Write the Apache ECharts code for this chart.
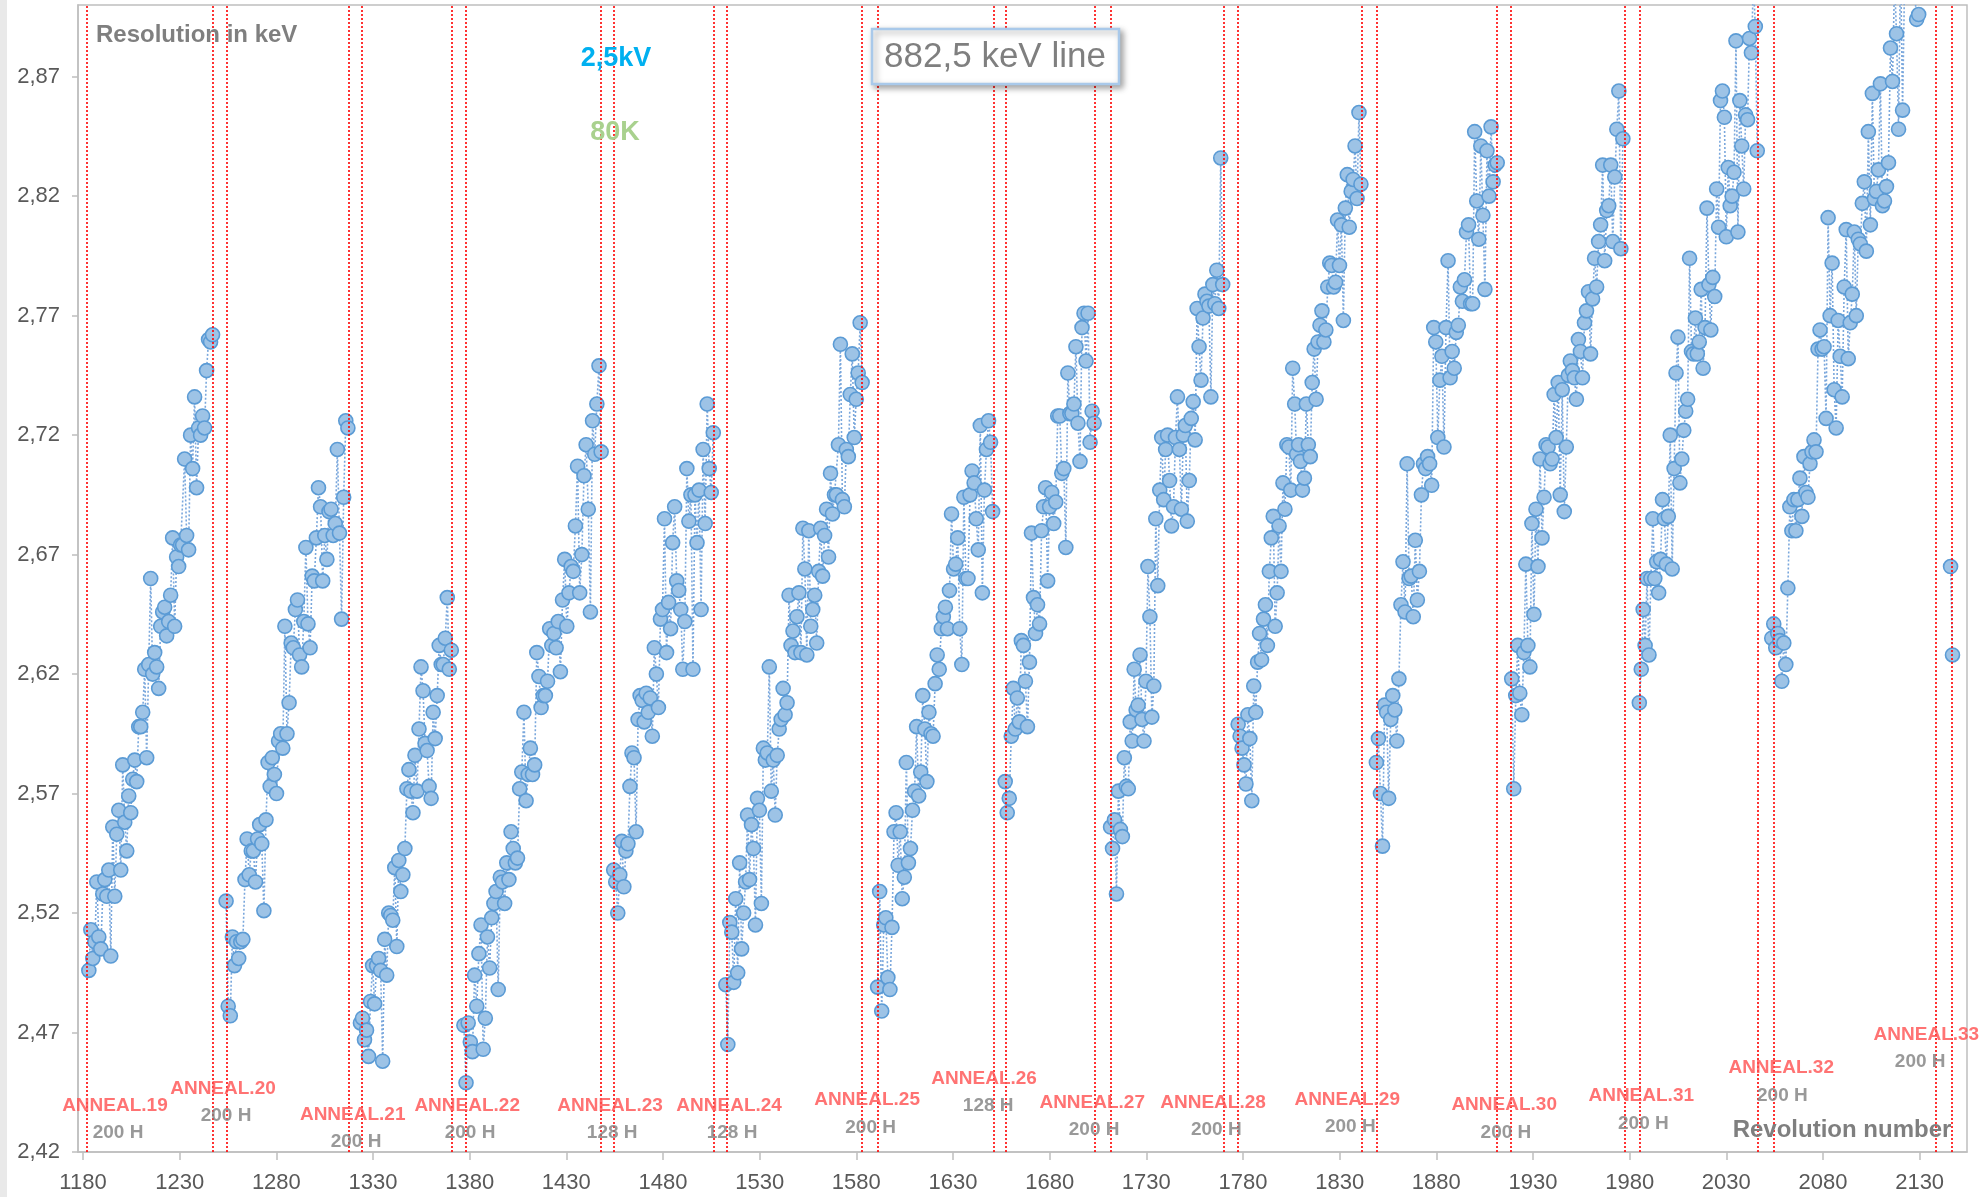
<!DOCTYPE html>
<html><head><meta charset="utf-8">
<script src="https://cdn.jsdelivr.net/npm/echarts@6/dist/echarts.min.js"></script>
<style>html,body{margin:0;padding:0;background:#fff}#c{width:1981px;height:1197px}</style>
</head><body><div id="c"></div>
<script>
// ---- tick labels ----
const xTickLabels = [1180,1230,1280,1330,1380,1430,1480,1530,1580,1630,1680,1730,1780,1830,1880,1930,1980,2030,2080,2130];
const yTickLabels = [2.42,2.47,2.52,2.57,2.62,2.67,2.72,2.77,2.82,2.87];

// ---- anneal marker lines (revolution numbers) ----
const annealLines = [1182,1247,1254.5,1317.5,1324,1370.5,1378,1448,1454.5,1506,1513,1583,1591,1651,1657.5,1703.5,1711.5,1770,1777.5,1841.5,1849,1911.5,1918.5,1977.5,1985,2046.5,2054.5,2138.5,2146.5];

// ---- annotations ----
const annealNames = ['ANNEAL.19','ANNEAL.20','ANNEAL.21','ANNEAL.22','ANNEAL.23','ANNEAL.24','ANNEAL.25','ANNEAL.26','ANNEAL.27','ANNEAL.28','ANNEAL.29','ANNEAL.30','ANNEAL.31','ANNEAL.32','ANNEAL.33'];
const annealLabelX = [1196.5,1252.4,1319.5,1378.7,1452.6,1514.2,1585.6,1646.1,1702,1764.5,1833.9,1915.1,1986,2058.4,2133.5];
const annealLabelY = [2.4392,2.4464,2.4355,2.4392,2.4392,2.4392,2.4418,2.4505,2.4405,2.4405,2.4418,2.4397,2.4434,2.4551,2.4690];
const annealHours = ['200 H','200 H','200 H','200 H','128 H','128 H','200 H','128 H','200 H','200 H','200 H','200 H','200 H','200 H','200 H'];
const hoursLabelX = [1198.1,1254,1321.2,1380.2,1453.7,1515.7,1587.4,1648.2,1703,1766.2,1835.5,1916,1987.1,2059,2130.3];
const hoursLabelY = [2.4280,2.4351,2.4242,2.4280,2.4280,2.4280,2.4300,2.4392,2.4292,2.4292,2.4305,2.4280,2.4317,2.4434,2.4577];

// ---- measured resolution (keV) per cycle after each anneal: [first rev, last rev] ----
const cycle19Range = [1183, 1247];
const cycle19 = [2.496,2.513,2.501,2.508,2.533,2.510,2.505,2.528,2.534,2.527,2.538,2.502,2.556,2.527,2.553,2.563,2.538,2.582,2.558,2.546,2.569,2.562,2.576,2.584,2.575,2.598,2.598,2.604,2.622,2.585,2.624,2.660,2.620,2.629,2.623,2.614,2.640,2.646,2.648,2.636,2.642,2.653,2.677,2.640,2.669,2.665,2.674,2.674,2.710,2.678,2.672,2.720,2.706,2.736,2.698,2.723,2.720,2.728,2.723,2.747,2.760,2.759,2.762];
const cycle20Range = [1254, 1317];
const cycle20 = [2.525,2.481,2.477,2.510,2.498,2.508,2.501,2.508,2.509,2.534,2.551,2.536,2.546,2.546,2.533,2.551,2.557,2.549,2.521,2.559,2.583,2.573,2.585,2.578,2.570,2.592,2.595,2.589,2.640,2.595,2.608,2.633,2.631,2.647,2.651,2.628,2.623,2.642,2.673,2.641,2.631,2.661,2.659,2.677,2.698,2.690,2.659,2.678,2.668,2.688,2.689,2.678,2.683,2.714,2.679,2.643,2.694,2.726,2.723];
const cycle21Range = [1323.5, 1370.5];
const cycle21 = [2.474,2.476,2.467,2.471,2.460,2.483,2.498,2.482,2.498,2.501,2.496,2.458,2.509,2.494,2.520,2.519,2.517,2.539,2.506,2.542,2.529,2.536,2.547,2.572,2.580,2.571,2.562,2.586,2.571,2.597,2.623,2.613,2.591,2.588,2.573,2.568,2.604,2.593,2.611,2.632,2.624,2.624,2.635,2.652,2.622,2.630];
const cycle22Range = [1377, 1448];
const cycle22 = [2.473,2.449,2.474,2.466,2.462,2.494,2.481,2.503,2.515,2.463,2.476,2.510,2.497,2.518,2.524,2.529,2.488,2.535,2.533,2.524,2.541,2.534,2.554,2.547,2.541,2.543,2.572,2.579,2.604,2.567,2.578,2.589,2.578,2.582,2.629,2.619,2.606,2.611,2.611,2.617,2.639,2.632,2.637,2.631,2.642,2.621,2.651,2.668,2.640,2.654,2.665,2.663,2.682,2.707,2.654,2.670,2.703,2.716,2.689,2.646,2.726,2.712,2.733,2.749,2.713];
const cycle23Range = [1454.5, 1506];
const cycle23 = [2.538,2.533,2.520,2.536,2.550,2.531,2.546,2.549,2.573,2.587,2.585,2.554,2.601,2.611,2.609,2.600,2.612,2.604,2.610,2.594,2.631,2.620,2.606,2.643,2.647,2.685,2.629,2.650,2.639,2.675,2.690,2.659,2.655,2.647,2.622,2.642,2.706,2.684,2.695,2.622,2.695,2.675,2.697,2.647,2.714,2.683,2.733,2.706,2.696,2.721];
const cycle24Range = [1512.5, 1583];
const cycle24 = [2.490,2.465,2.516,2.512,2.491,2.526,2.495,2.541,2.505,2.520,2.533,2.561,2.534,2.557,2.547,2.515,2.568,2.563,2.524,2.589,2.584,2.587,2.623,2.571,2.584,2.561,2.586,2.597,2.601,2.614,2.603,2.608,2.653,2.632,2.638,2.629,2.644,2.654,2.629,2.681,2.664,2.628,2.680,2.640,2.647,2.653,2.633,2.663,2.681,2.661,2.678,2.689,2.669,2.704,2.687,2.695,2.695,2.716,2.758,2.693,2.690,2.714,2.711,2.737,2.754,2.719,2.735,2.746,2.767,2.742];
const cycle25Range = [1591, 1650.5];
const cycle25 = [2.489,2.529,2.479,2.515,2.518,2.493,2.488,2.514,2.554,2.562,2.540,2.554,2.526,2.535,2.583,2.541,2.547,2.563,2.571,2.598,2.569,2.579,2.611,2.597,2.575,2.604,2.595,2.594,2.616,2.628,2.622,2.639,2.644,2.648,2.639,2.655,2.687,2.664,2.666,2.677,2.639,2.624,2.694,2.660,2.660,2.695,2.705,2.700,2.685,2.672,2.724,2.654,2.697,2.714,2.726,2.717,2.688];
const cycle26Range = [1657, 1703];
const cycle26 = [2.575,2.562,2.568,2.594,2.614,2.597,2.610,2.600,2.634,2.632,2.617,2.598,2.625,2.679,2.652,2.637,2.649,2.641,2.680,2.690,2.698,2.659,2.690,2.696,2.683,2.692,2.728,2.728,2.704,2.706,2.673,2.746,2.729,2.729,2.733,2.757,2.725,2.709,2.765,2.771,2.751,2.771,2.717,2.730,2.725];
const cycle27Range = [1711.5, 1769.5];
const cycle27 = [2.556,2.547,2.559,2.528,2.571,2.555,2.552,2.585,2.573,2.572,2.600,2.592,2.622,2.605,2.607,2.628,2.601,2.592,2.617,2.665,2.644,2.602,2.615,2.685,2.657,2.697,2.719,2.693,2.714,2.720,2.701,2.682,2.690,2.719,2.736,2.714,2.689,2.720,2.724,2.684,2.701,2.727,2.734,2.718,2.773,2.757,2.743,2.769,2.779,2.776,2.774,2.736,2.783,2.775,2.789,2.773,2.836,2.783];
const cycle28Range = [1777.5, 1841];
const cycle28 = [2.599,2.594,2.589,2.582,2.574,2.603,2.593,2.567,2.615,2.604,2.625,2.637,2.626,2.643,2.649,2.632,2.663,2.677,2.686,2.640,2.654,2.682,2.663,2.700,2.689,2.716,2.715,2.697,2.748,2.733,2.712,2.716,2.709,2.697,2.702,2.733,2.716,2.711,2.742,2.756,2.735,2.759,2.766,2.772,2.759,2.764,2.782,2.792,2.791,2.782,2.784,2.810,2.791,2.808,2.768,2.815,2.829,2.807,2.822,2.827,2.841,2.819,2.855,2.825];
const cycle29Range = [1849, 1911.5];
const cycle29 = [2.583,2.593,2.570,2.548,2.607,2.604,2.568,2.601,2.611,2.605,2.592,2.618,2.649,2.667,2.646,2.708,2.660,2.661,2.644,2.676,2.651,2.663,2.695,2.708,2.706,2.711,2.708,2.699,2.765,2.759,2.719,2.743,2.753,2.715,2.765,2.793,2.744,2.755,2.748,2.763,2.766,2.782,2.776,2.785,2.805,2.808,2.775,2.775,2.847,2.818,2.802,2.841,2.812,2.781,2.839,2.820,2.849,2.826,2.833,2.834];
const cycle30Range = [1919, 1976.5];
const cycle30 = [2.618,2.572,2.611,2.632,2.612,2.603,2.629,2.666,2.632,2.623,2.683,2.645,2.689,2.665,2.710,2.677,2.694,2.716,2.715,2.708,2.710,2.737,2.719,2.742,2.695,2.739,2.688,2.715,2.745,2.751,2.747,2.744,2.735,2.760,2.755,2.744,2.767,2.772,2.780,2.754,2.777,2.794,2.782,2.801,2.808,2.833,2.793,2.814,2.816,2.833,2.801,2.828,2.848,2.864,2.798,2.844];
const cycle31Range = [1985, 2046];
const cycle31 = [2.608,2.622,2.647,2.632,2.660,2.628,2.660,2.685,2.660,2.667,2.654,2.668,2.693,2.685,2.666,2.686,2.720,2.664,2.706,2.746,2.761,2.700,2.710,2.722,2.730,2.735,2.794,2.755,2.754,2.769,2.754,2.759,2.781,2.748,2.765,2.815,2.783,2.764,2.786,2.778,2.823,2.807,2.860,2.864,2.853,2.803,2.832,2.816,2.820,2.830,2.885,2.805,2.860,2.841,2.823,2.854,2.852,2.886,2.880,2.910,2.891,2.839];
const cycle32Range = [2053.5, 2129.5];
const cycle32 = [2.635,2.641,2.631,2.637,2.634,2.617,2.633,2.624,2.656,2.690,2.680,2.693,2.680,2.693,2.702,2.686,2.711,2.696,2.694,2.708,2.713,2.718,2.713,2.756,2.764,2.756,2.757,2.727,2.811,2.770,2.792,2.739,2.723,2.768,2.753,2.736,2.782,2.806,2.752,2.767,2.779,2.805,2.770,2.802,2.800,2.817,2.826,2.797,2.847,2.808,2.863,2.819,2.822,2.831,2.867,2.816,2.818,2.824,2.834,2.882,2.868,2.910,2.888,2.848,2.920,2.856,2.910,2.905,2.915,2.910,2.920,2.905,2.894,2.896];
const cycle33Range = [2146, 2147];
const cycle33 = [2.665,2.628];

const cycles = [
  [cycle19Range, cycle19],[cycle20Range, cycle20],[cycle21Range, cycle21],[cycle22Range, cycle22],
  [cycle23Range, cycle23],[cycle24Range, cycle24],[cycle25Range, cycle25],[cycle26Range, cycle26],
  [cycle27Range, cycle27],[cycle28Range, cycle28],[cycle29Range, cycle29],[cycle30Range, cycle30],
  [cycle31Range, cycle31],[cycle32Range, cycle32],[cycle33Range, cycle33]
];

const seriesData = [];
cycles.forEach(([range, vals]) => {
  const n = vals.length;
  vals.forEach((v, i) => {
    const x = n > 1 ? range[0] + i * (range[1] - range[0]) / (n - 1) : range[0];
    seriesData.push([x, v]);
  });
  seriesData.push([range[1] + 0.5, '-']);
});

const grayTxt = '#7f7f7f';
const clear = 'rgba(0,0,0,0)';
const annFont = 'Liberation Sans';
const chart = echarts.init(document.getElementById('c'), null, {renderer: 'canvas'});
chart.setOption({
  backgroundColor: '#ffffff',
  animation: false,
  grid: {left: 78, right: 14, top: 5, bottom: 45, show: true, borderColor: '#bfbfbf', borderWidth: 1.5, backgroundColor: 'transparent'},
  xAxis: {
    type: 'value', min: 1177.4, max: 2154.5,
    axisLine: {show: true, onZero: false, lineStyle: {color: '#bfbfbf', width: 1.5}},
    axisTick: {show: true, customValues: xTickLabels, length: 8, lineStyle: {color: '#bfbfbf', width: 1.5}},
    axisLabel: {customValues: xTickLabels, margin: 20, fontSize: 22, color: '#595959', fontFamily: 'Liberation Sans',
      formatter: v => String(Math.round(v))},
    splitLine: {show: false}
  },
  yAxis: {
    type: 'value', min: 2.42, max: 2.90,
    axisLine: {show: true, onZero: false, lineStyle: {color: '#bfbfbf', width: 1.5}},
    axisTick: {show: true, customValues: yTickLabels, length: 6, lineStyle: {color: '#bfbfbf', width: 1.5}},
    axisLabel: {customValues: yTickLabels, margin: 18, fontSize: 22, color: '#595959', fontFamily: 'Liberation Sans',
      formatter: v => v.toFixed(2).replace('.', ',')},
    splitLine: {show: false}
  },
  series: [
    {
      type: 'line', data: seriesData, clip: true, connectNulls: false,
      symbol: 'circle', symbolSize: 14, showSymbol: true,
      lineStyle: {color: '#7aa7dc', width: 1.6, type: [2, 2]},
      itemStyle: {color: '#9dc3e6', borderColor: '#5b9bd5', borderWidth: 1.6},
      emphasis: {disabled: true},
      markLine: {
        silent: true, symbol: ['none', 'none'], label: {show: false}, animation: false,
        lineStyle: {color: '#ff0000', width: 1.6, type: [2, 2]},
        data: annealLines.map(v => ({xAxis: v}))
      },
      z: 3
    },
    {
      type: 'scatter', silent: true, clip: false, symbol: 'rect', symbolSize: 1,
      itemStyle: {color: clear, borderColor: clear},
      data: annealNames.map((n, i) => ({name: n, value: [annealLabelX[i], annealLabelY[i]]})),
      label: {show: true, position: 'inside', formatter: p => p.name, color: '#ff5050', fontWeight: 'bold', fontSize: 19, fontFamily: annFont},
      labelLayout: {hideOverlap: false},
      z: 5
    },
    {
      type: 'scatter', silent: true, clip: false, symbol: 'rect', symbolSize: 1,
      itemStyle: {color: clear, borderColor: clear},
      data: annealHours.map((n, i) => ({name: n, value: [hoursLabelX[i], hoursLabelY[i]]})),
      label: {show: true, position: 'inside', formatter: p => p.name, color: grayTxt, fontWeight: 'bold', fontSize: 19, fontFamily: annFont},
      labelLayout: {hideOverlap: false},
      z: 5
    }
  ],
  graphic: [
    {type: 'rect', z: 100, shape: {x: 0, y: 0, width: 7, height: 1197}, style: {fill: '#e9e9e9'}},
    {type: 'text', z: 100, style: {x: 96, y: 35, text: 'Resolution in keV', fill: grayTxt, font: 'bold 24px "Liberation Sans"', align: 'left', verticalAlign: 'middle'}},
    {type: 'text', z: 100, style: {x: 616, y: 59, text: '2,5kV', fill: '#00b0f0', font: 'bold 27px "Liberation Sans"', align: 'center', verticalAlign: 'middle'}},
    {type: 'text', z: 100, style: {x: 615, y: 133, text: '80K', fill: '#a9d18e', font: 'bold 27px "Liberation Sans"', align: 'center', verticalAlign: 'middle'}},
    {type: 'rect', z: 100, shape: {x: 872, y: 29, width: 247, height: 55}, style: {fill: '#ffffff', stroke: '#a9c9ea', lineWidth: 2.5, shadowBlur: 6, shadowOffsetX: 3, shadowOffsetY: 3, shadowColor: 'rgba(0,0,0,0.35)'}},
    {type: 'text', z: 101, style: {x: 995, y: 57, text: '882,5 keV line', fill: grayTxt, font: '35px "Liberation Sans"', align: 'center', verticalAlign: 'middle'}},
    {type: 'text', z: 100, style: {x: 1842, y: 1130, text: 'Revolution number', fill: grayTxt, font: 'bold 24px "Liberation Sans"', align: 'center', verticalAlign: 'middle'}}
  ]
});
</script></body></html>
